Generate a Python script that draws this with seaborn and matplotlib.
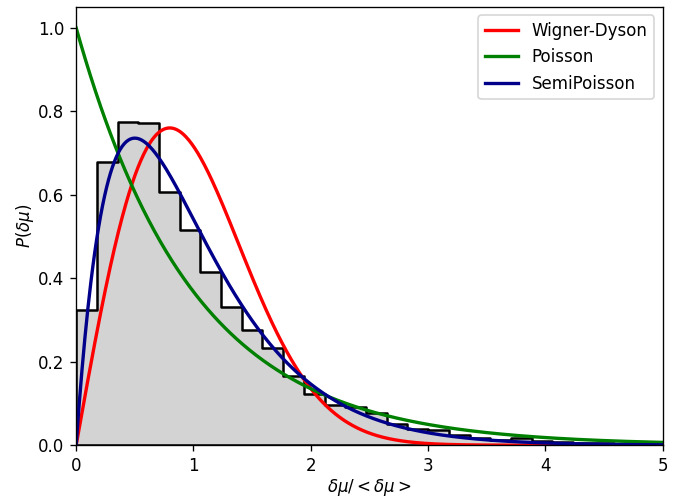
import numpy as np
import pandas as pd
import matplotlib
matplotlib.use("Agg")
import matplotlib.pyplot as plt
import seaborn as sns

# Histogram of normalized spacings (density), bins of equal width starting at 0
bin_width = 0.1765
bin_heights = [0.325, 0.679, 0.775, 0.773, 0.607, 0.516, 0.415, 0.332, 0.276, 0.232,
               0.166, 0.122, 0.096, 0.092, 0.077, 0.050, 0.040, 0.036, 0.024, 0.018,
               0.013, 0.018, 0.009, 0.007, 0.006, 0.005, 0.004, 0.003, 0.002]

curve_labels = ["Wigner-Dyson", "Poisson", "SemiPoisson"]
curve_colors = ["red", "green", "darkblue"]

n_bins = len(bin_heights)
edges = np.arange(n_bins + 1) * bin_width
hist_df = pd.DataFrame({"center": (edges[:-1] + edges[1:]) / 2,
                        "height": bin_heights})

# theoretical distributions
s = np.linspace(0, 5, 600)
curves = [
    np.pi / 2 * s * np.exp(-np.pi * s**2 / 4),
    np.exp(-s),
    4 * s * np.exp(-2 * s),
]

dpi = 120
fig = plt.figure(figsize=(686 / dpi, 498 / dpi), dpi=dpi)
ax = fig.add_axes([0.111, 0.106, 0.855, 0.880])

sns.histplot(data=hist_df, x="center", weights="height", bins=list(edges),
             element="step", fill=True, color="lightgray", edgecolor="black",
             alpha=1, linewidth=1.5, ax=ax)

for y, lab, col in zip(curves, curve_labels, curve_colors):
    sns.lineplot(x=s, y=y, color=col, linewidth=2, label=lab, ax=ax)

ax.set_xlim(0, 5)
ax.set_ylim(0, 1.05)
ax.set_xlabel(r"$\delta\mu/<\delta\mu>$", labelpad=1.5)
ax.set_ylabel(r"$P(\delta\mu)$", labelpad=1.5)
ax.legend(loc="upper right")

fig.savefig("out.png", dpi=dpi)
